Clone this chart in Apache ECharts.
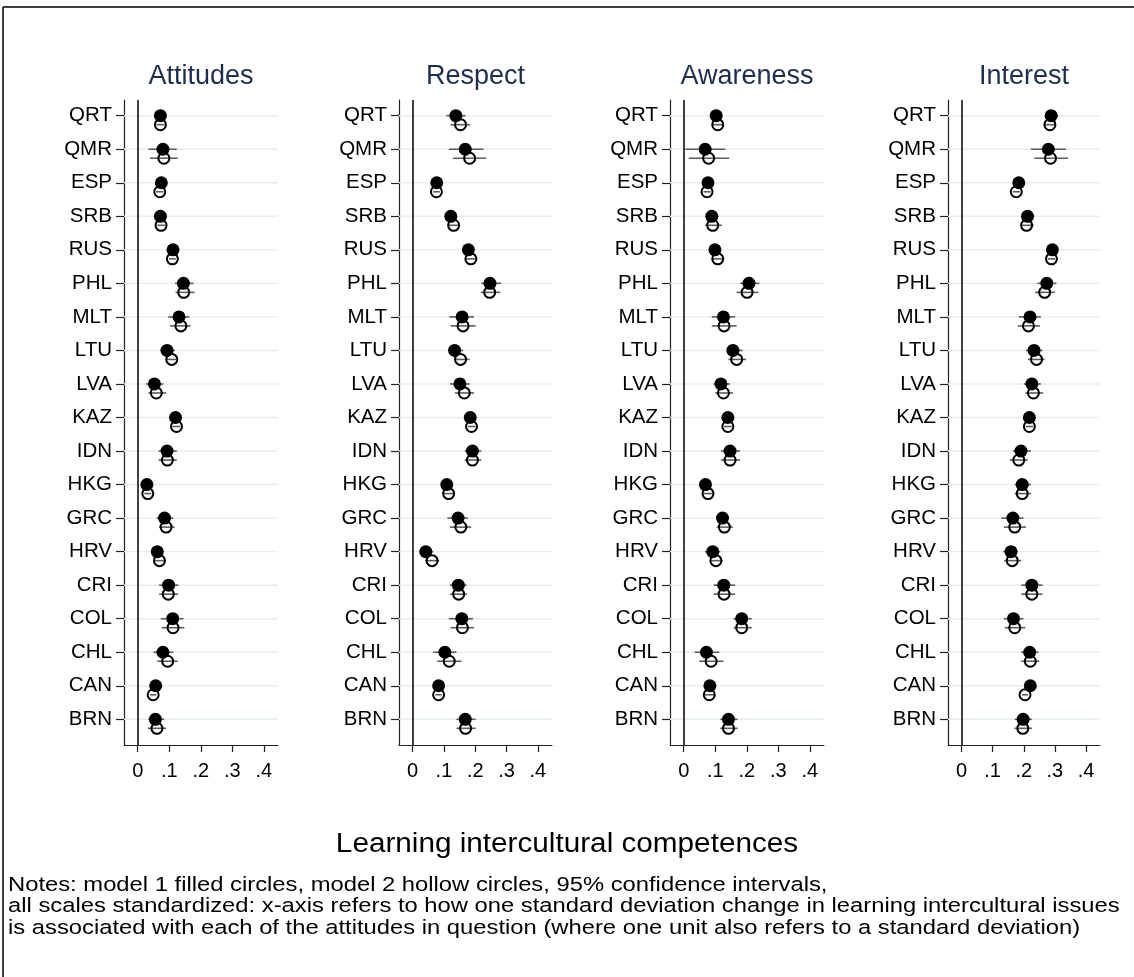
<!DOCTYPE html>
<html>
<head>
<meta charset="utf-8">
<script src="https://cdn.jsdelivr.net/npm/echarts@6/dist/echarts.min.js"></script>
<style>
  html, body { margin: 0; padding: 0; background: #fff; }
  #chart { width: 1134px; height: 977px; }
</style>
</head>
<body>
<div id="chart"></div>
<script>
// Country rows, top to bottom
const countries = ['QRT','QMR','ESP','SRB','RUS','PHL','MLT','LTU','LVA','KAZ','IDN','HKG','GRC','HRV','CRI','COL','CHL','CAN','BRN'];
const panelTitles = ['Attitudes', 'Respect', 'Awareness', 'Interest'];
const xTickValues = [0, 0.1, 0.2, 0.3, 0.4];

// Coefficients as [estimate, lower 95%, upper 95%] per country
const attitudesModel1 = [
  [0.072,0.055,0.090],[0.080,0.034,0.124],[0.075,0.062,0.088],[0.072,0.058,0.086],[0.112,0.100,0.124],
  [0.145,0.118,0.177],[0.131,0.097,0.164],[0.093,0.071,0.118],[0.053,0.026,0.081],[0.120,0.108,0.132],
  [0.093,0.066,0.124],[0.029,0.018,0.040],[0.085,0.060,0.113],[0.062,0.044,0.081],[0.098,0.068,0.129],
  [0.111,0.073,0.145],[0.080,0.050,0.113],[0.057,0.047,0.067],[0.056,0.034,0.084]
];
const attitudesModel2 = [
  [0.072,0.060,0.085],[0.083,0.039,0.127],[0.070,0.058,0.082],[0.074,0.062,0.087],[0.110,0.099,0.121],
  [0.146,0.120,0.180],[0.137,0.103,0.168],[0.108,0.093,0.122],[0.059,0.034,0.090],[0.123,0.111,0.135],
  [0.094,0.066,0.124],[0.032,0.021,0.043],[0.090,0.068,0.117],[0.069,0.050,0.088],[0.097,0.068,0.128],
  [0.112,0.076,0.148],[0.095,0.062,0.127],[0.049,0.039,0.059],[0.061,0.032,0.090]
];
const respectModel1 = [
  [0.138,0.108,0.169],[0.168,0.116,0.226],[0.077,0.066,0.088],[0.122,0.108,0.137],[0.178,0.163,0.193],
  [0.247,0.219,0.282],[0.158,0.117,0.196],[0.134,0.114,0.161],[0.151,0.119,0.182],[0.184,0.172,0.196],
  [0.191,0.166,0.219],[0.109,0.092,0.126],[0.145,0.111,0.177],[0.042,0.022,0.066],[0.146,0.119,0.172],
  [0.157,0.116,0.193],[0.103,0.066,0.140],[0.083,0.073,0.093],[0.168,0.140,0.201]
];
const respectModel2 = [
  [0.153,0.121,0.184],[0.182,0.129,0.235],[0.076,0.065,0.087],[0.131,0.115,0.146],[0.186,0.170,0.200],
  [0.246,0.218,0.280],[0.161,0.121,0.201],[0.153,0.135,0.182],[0.165,0.135,0.196],[0.188,0.176,0.200],
  [0.191,0.166,0.219],[0.115,0.096,0.133],[0.154,0.119,0.187],[0.062,0.040,0.085],[0.147,0.120,0.173],
  [0.159,0.121,0.196],[0.117,0.079,0.156],[0.083,0.073,0.093],[0.169,0.140,0.201]
];
const awarenessModel1 = [
  [0.103,0.085,0.120],[0.068,0.005,0.132],[0.077,0.066,0.088],[0.089,0.070,0.110],[0.099,0.085,0.115],
  [0.207,0.179,0.240],[0.126,0.089,0.163],[0.156,0.137,0.187],[0.118,0.095,0.147],[0.140,0.128,0.152],
  [0.147,0.118,0.179],[0.069,0.055,0.085],[0.123,0.105,0.142],[0.092,0.068,0.116],[0.127,0.095,0.163],
  [0.184,0.158,0.216],[0.072,0.035,0.113],[0.083,0.068,0.098],[0.142,0.116,0.171]
];
const awarenessModel2 = [
  [0.108,0.090,0.127],[0.079,0.016,0.144],[0.074,0.063,0.085],[0.092,0.068,0.121],[0.108,0.092,0.124],
  [0.201,0.168,0.237],[0.128,0.089,0.168],[0.168,0.142,0.198],[0.126,0.100,0.156],[0.140,0.128,0.152],
  [0.147,0.118,0.179],[0.077,0.060,0.094],[0.129,0.105,0.156],[0.102,0.084,0.124],[0.128,0.095,0.163],
  [0.184,0.158,0.216],[0.087,0.049,0.126],[0.081,0.063,0.100],[0.142,0.116,0.171]
];
const interestModel1 = [
  [0.288,0.268,0.310],[0.279,0.223,0.336],[0.184,0.172,0.196],[0.212,0.192,0.230],[0.292,0.279,0.305],
  [0.274,0.244,0.305],[0.220,0.184,0.255],[0.233,0.207,0.260],[0.226,0.200,0.255],[0.218,0.206,0.230],
  [0.191,0.165,0.223],[0.195,0.171,0.223],[0.165,0.128,0.199],[0.159,0.134,0.181],[0.226,0.192,0.260],
  [0.167,0.136,0.199],[0.219,0.192,0.247],[0.221,0.211,0.231],[0.198,0.171,0.226]
];
const interestModel2 = [
  [0.284,0.265,0.303],[0.286,0.234,0.342],[0.176,0.165,0.187],[0.209,0.190,0.232],[0.289,0.277,0.301],
  [0.267,0.236,0.300],[0.215,0.181,0.252],[0.241,0.213,0.267],[0.231,0.205,0.262],[0.218,0.206,0.230],
  [0.184,0.155,0.213],[0.195,0.171,0.223],[0.171,0.136,0.207],[0.163,0.137,0.192],[0.226,0.192,0.260],
  [0.171,0.139,0.205],[0.221,0.192,0.250],[0.204,0.194,0.214],[0.197,0.170,0.226]
];

const panelModels = [
  [attitudesModel1, attitudesModel2],
  [respectModel1, respectModel2],
  [awarenessModel1, awarenessModel2],
  [interestModel1, interestModel2]
];

const notesLines = [
  'Notes: model 1 filled circles, model 2 hollow circles, 95% confidence intervals,',
  'all scales standardized: x-axis refers to how one standard deviation change in learning intercultural issues',
  'is associated with each of the attitudes in question (where one unit also refers to a standard deviation)'
];
const mainTitle = 'Learning intercultural competences';

// Layout
const FONT = '"Liberation Sans", Arial, Helvetica, sans-serif';
const X_MIN = -0.0435, X_MAX = 0.445;
const Y_MIN = -0.468, Y_MAX = 18.766;
const panelLeft = [124, 399, 670, 948];
const panelWidth = [154, 153, 154, 152];
const GRID_TOP = 100, GRID_HEIGHT = 645;
const HOLLOW_SHIFT = 9; // pixel drop of model 2 below model 1

const chart = echarts.init(document.getElementById('chart'), null, { renderer: 'canvas' });

const grids = [], xAxes = [], yAxes = [], series = [], graphics = [];

panelTitles.forEach((title, p) => {
  grids.push({ left: panelLeft[p], top: GRID_TOP, width: panelWidth[p], height: GRID_HEIGHT, containLabel: false });
  xAxes.push({
    gridIndex: p, type: 'value', min: X_MIN, max: X_MAX,
    axisLine: { show: true, onZero: false, lineStyle: { color: '#222', width: 1.2 } },
    axisTick: { show: true, customValues: xTickValues, length: 7, lineStyle: { color: '#222', width: 1.2 } },
    axisLabel: {
      customValues: xTickValues, color: '#000', fontFamily: FONT, fontSize: 20, margin: 16,
      formatter: v => v === 0 ? '0' : String(Math.round(v * 10) / 10).replace(/^0/, '')
    },
    splitLine: { show: false }
  });
  const rowIdx = countries.map((c, i) => i);
  yAxes.push({
    gridIndex: p, type: 'value', inverse: true, min: Y_MIN, max: Y_MAX,
    axisLine: { show: true, onZero: false, lineStyle: { color: '#222', width: 1.2 } },
    axisTick: { show: true, customValues: rowIdx, length: 8, lineStyle: { color: '#222', width: 1.2 } },
    axisLabel: {
      customValues: rowIdx, color: '#000', fontFamily: FONT, fontSize: 20.5, margin: 12,
      formatter: v => countries[Math.round(v)]
    },
    splitLine: { show: false }
  });

  // light horizontal guide at each country row
  series.push({
    type: 'custom', xAxisIndex: p, yAxisIndex: p, silent: true, z: 1,
    data: countries.map((c, i) => [0, i]),
    encode: { x: 0, y: 1 },
    renderItem: (params, api) => {
      const a = api.coord([X_MIN, api.value(1)]);
      const b = api.coord([X_MAX, api.value(1)]);
      return { type: 'line', shape: { x1: a[0], y1: a[1], x2: b[0], y2: b[1] },
               style: { stroke: '#e4edf0', lineWidth: 1.4 } };
    }
  });

  const [m1, m2] = panelModels[p];
  // confidence intervals for both models
  [[m1, 0], [m2, HOLLOW_SHIFT]].forEach(([model, shift]) => {
    series.push({
      type: 'custom', xAxisIndex: p, yAxisIndex: p, silent: true, z: 3,
      data: model.map((d, i) => [d[1], d[2], i]),
      encode: { x: [0, 1], y: 2 },
      renderItem: (params, api) => {
        const a = api.coord([api.value(0), api.value(2)]);
        const b = api.coord([api.value(1), api.value(2)]);
        return { type: 'line', shape: { x1: a[0], y1: a[1] + shift, x2: b[0], y2: b[1] + shift },
                 style: { stroke: '#5c5c5c', lineWidth: 1.6 } };
      }
    });
  });

  // model 1: filled circles (with the vertical reference line at zero)
  series.push({
    type: 'scatter', xAxisIndex: p, yAxisIndex: p, z: 4, silent: true,
    data: m1.map((d, i) => [d[0], i]),
    symbol: 'circle', symbolSize: 13,
    itemStyle: { color: '#000', opacity: 1 },
    markLine: {
      silent: true, symbol: 'none', label: { show: false },
      lineStyle: { color: '#000', width: 1.5, type: 'solid' },
      data: [{ xAxis: 0 }], z: 2, animation: false
    }
  });
  // model 2: hollow circles
  series.push({
    type: 'scatter', xAxisIndex: p, yAxisIndex: p, z: 5, silent: true,
    data: m2.map((d, i) => [d[0], i]),
    symbol: 'circle', symbolSize: 11, symbolOffset: [0, HOLLOW_SHIFT],
    itemStyle: { color: 'rgba(0,0,0,0)', borderColor: '#000', borderWidth: 2, opacity: 1 }
  });

  graphics.push({
    type: 'text', x: panelLeft[p] + panelWidth[p] / 2, y: 77,
    style: { text: title, fill: '#1f2d4e', font: '27px ' + FONT, textAlign: 'center', textVerticalAlign: 'middle' }
  });
});

graphics.push({
  type: 'text', x: 567, y: 845, scaleX: 1.1,
  style: { text: mainTitle, fill: '#000', font: '27px ' + FONT, textAlign: 'center', textVerticalAlign: 'middle' }
});
notesLines.forEach((line, k) => {
  graphics.push({
    type: 'text', x: 8, y: 885 + k * 21.5, scaleX: 1.16,
    style: { text: line, fill: '#000', font: '20.5px ' + FONT, textAlign: 'left', textVerticalAlign: 'middle' }
  });
});
// outer frame (top and left edges)
graphics.push({ type: 'line', shape: { x1: 3, y1: 7, x2: 1134, y2: 7 }, style: { stroke: '#000', lineWidth: 1.5 } });
graphics.push({ type: 'line', shape: { x1: 3, y1: 7, x2: 3, y2: 977 }, style: { stroke: '#000', lineWidth: 1.5 } });

chart.setOption({
  animation: false,
  backgroundColor: '#fff',
  grid: grids,
  xAxis: xAxes,
  yAxis: yAxes,
  series: series,
  graphic: graphics
});
</script>
</body>
</html>
